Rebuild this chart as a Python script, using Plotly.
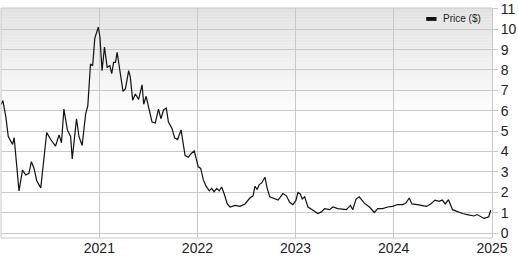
import plotly.graph_objects as go

dates = [
    "2020-01-01", "2020-01-05", "2020-01-08", "2020-01-19", "2020-01-28", "2020-02-13", "2020-02-19",
    "2020-03-08", "2020-03-21", "2020-04-02", "2020-04-14", "2020-04-23", "2020-05-03", "2020-05-13",
    "2020-05-28", "2020-06-19", "2020-07-04", "2020-07-22", "2020-08-04", "2020-08-13", "2020-08-22",
    "2020-09-04", "2020-09-16", "2020-09-22", "2020-10-08", "2020-10-17", "2020-10-29", "2020-11-11",
    "2020-11-19", "2020-11-29", "2020-12-07", "2020-12-15", "2020-12-28", "2021-01-03", "2021-01-11",
    "2021-01-20", "2021-01-30", "2021-02-09", "2021-02-16", "2021-02-23", "2021-03-02", "2021-03-08",
    "2021-03-18", "2021-03-30", "2021-04-08", "2021-04-20", "2021-04-26", "2021-05-05", "2021-05-15",
    "2021-05-27", "2021-06-09", "2021-06-15", "2021-06-24", "2021-07-03", "2021-07-16", "2021-07-28",
    "2021-08-09", "2021-08-18", "2021-08-28", "2021-09-07", "2021-09-15", "2021-09-28", "2021-10-08",
    "2021-10-19", "2021-11-01", "2021-11-16", "2021-11-28", "2021-12-07", "2021-12-20", "2022-01-04",
    "2022-01-13", "2022-01-23", "2022-02-02", "2022-02-14", "2022-02-23", "2022-03-04", "2022-03-14",
    "2022-03-23", "2022-04-01", "2022-04-10", "2022-04-22", "2022-05-02", "2022-05-21", "2022-06-08",
    "2022-06-27", "2022-07-15", "2022-07-27", "2022-08-03", "2022-08-11", "2022-08-19", "2022-08-28",
    "2022-09-09", "2022-09-17", "2022-09-27", "2022-10-16", "2022-10-28", "2022-11-15", "2022-11-28",
    "2022-12-10", "2022-12-22", "2023-01-02", "2023-01-10", "2023-01-19", "2023-01-26", "2023-02-04",
    "2023-02-16", "2023-03-07", "2023-03-25", "2023-04-07", "2023-04-19", "2023-05-08", "2023-05-20",
    "2023-06-07", "2023-06-26", "2023-07-09", "2023-07-24", "2023-08-02", "2023-08-14", "2023-08-26",
    "2023-09-14", "2023-10-03", "2023-10-21", "2023-11-03", "2023-11-21", "2023-12-10", "2023-12-28",
    "2024-01-16", "2024-02-03", "2024-02-16", "2024-02-28", "2024-03-09", "2024-03-30", "2024-04-17",
    "2024-05-02", "2024-05-18", "2024-06-03", "2024-06-18", "2024-06-30", "2024-07-11", "2024-07-23",
    "2024-08-07", "2024-08-25", "2024-09-13", "2024-10-01", "2024-10-14", "2024-10-26", "2024-11-07",
    "2024-11-20", "2024-12-02", "2024-12-14", "2024-12-20", "2024-12-27",
]

price = [
    6.30, 6.45, 6.50, 5.70, 4.74, 4.35, 4.68,
    2.07, 3.09, 2.85, 2.93, 3.50, 3.17, 2.57,
    2.22, 4.93, 4.59, 4.27, 4.82, 4.43, 6.08,
    5.06, 4.74, 3.64, 5.61, 4.74, 4.30, 5.85,
    6.24, 8.29, 8.21, 9.55, 10.10, 9.63, 7.97,
    9.12, 8.13, 8.21, 7.82, 8.37, 8.37, 8.87,
    7.90, 6.95, 7.08, 7.97, 7.66, 6.52, 6.82,
    6.56, 7.27, 6.32, 6.71, 6.16, 5.45, 5.40,
    6.08, 5.61, 6.04, 6.13, 5.45, 5.14, 4.67,
    4.59, 5.06, 3.80, 3.72, 3.88, 4.03, 3.25,
    3.17, 2.61, 2.30, 2.07, 2.19, 2.03, 2.19,
    2.07, 2.26, 1.94, 1.43, 1.28, 1.36, 1.31,
    1.43, 1.72, 1.83, 2.30, 2.14, 2.38, 2.46,
    2.74, 2.22, 1.78, 1.67, 1.62, 1.94, 1.83,
    1.51, 1.40, 1.59, 1.99, 1.91, 1.67, 1.78,
    1.28, 1.12, 0.96, 1.04, 1.20, 1.15, 1.28,
    1.20, 1.15, 1.15, 1.36, 1.15, 1.67, 1.78,
    1.47, 1.28, 1.01, 1.20, 1.20, 1.28, 1.31,
    1.40, 1.40, 1.47, 1.72, 1.43, 1.40, 1.36,
    1.31, 1.43, 1.62, 1.56, 1.62, 1.43, 1.64,
    1.15, 1.04, 0.96, 0.91, 0.88, 0.84, 0.91,
    0.80, 0.72, 0.77, 0.80, 1.12,
]

x_ticks = ["2021-01-01", "2022-01-01", "2023-01-01", "2024-01-01", "2025-01-01"]
x_tick_labels = ["2021", "2022", "2023", "2024", "2025"]
y_ticks = list(range(0, 12))
series_name = "Price ($)"

W, H = 518, 257
grid = "#c8c8c8"

fig = go.Figure()
fig.add_trace(go.Scatter(
    x=dates, y=price, mode="lines", name=series_name,
    line=dict(color="#111111", width=1.2), showlegend=False,
))

# gradient background (light gray at top fading to white)
shapes = []
n = 40
top_c, bot_c = 226, 255
for i in range(n):
    y1 = 1 - i * 0.5 / n
    y0 = 1 - (i + 1) * 0.5 / n
    c = int(round(top_c + (bot_c - top_c) * i / (n - 1)))
    shapes.append(dict(type="rect", xref="paper", yref="paper", x0=0, x1=1, y0=y0, y1=y1,
                       fillcolor=f"rgb({c},{c},{c})", line=dict(width=0), layer="below"))
# frame: left, bottom, top
shapes.append(dict(type="line", xref="paper", yref="paper", x0=0, x1=0, y0=0, y1=1,
                   line=dict(color=grid, width=1)))
shapes.append(dict(type="line", xref="paper", yref="paper", x0=0, x1=1, y0=0, y1=0,
                   line=dict(color=grid, width=1)))
shapes.append(dict(type="line", xref="paper", yref="paper", x0=0, x1=1, y0=1, y1=1,
                   line=dict(color=grid, width=1)))
# legend swatch
shapes.append(dict(type="rect", xref="paper", yref="paper", x0=0.866, x1=0.887, y0=0.944, y1=0.961,
                   fillcolor="#111111", line=dict(width=0)))

fig.update_layout(
    width=W, height=H,
    margin=dict(l=1, r=24, t=4, b=15),
    paper_bgcolor="white", plot_bgcolor="white",
    font=dict(family="Liberation Sans, Arial, Helvetica, sans-serif", color="#222222", size=14),
    shapes=shapes,
    annotations=[dict(text=series_name, xref="paper", yref="paper", x=0.896, y=0.953,
                      xanchor="left", yanchor="middle", showarrow=False,
                      font=dict(size=10, color="#222222"))],
    xaxis=dict(range=["2020-01-01", "2025-01-01"], tickvals=x_ticks, ticktext=x_tick_labels,
               showgrid=True, gridcolor=grid, gridwidth=1, ticks="", zeroline=False,
               showline=False, tickfont=dict(size=14), ticklabeloverflow="allow"),
    yaxis=dict(range=[-0.24, 11.04], side="right", tickvals=y_ticks, showgrid=True,
               gridcolor=grid, gridwidth=1, ticks="outside", ticklen=5, tickcolor=grid,
               showline=True, linecolor=grid, zeroline=False, tickfont=dict(size=14),
               ticklabeloverflow="allow"),
)

fig.write_html("out.html")
